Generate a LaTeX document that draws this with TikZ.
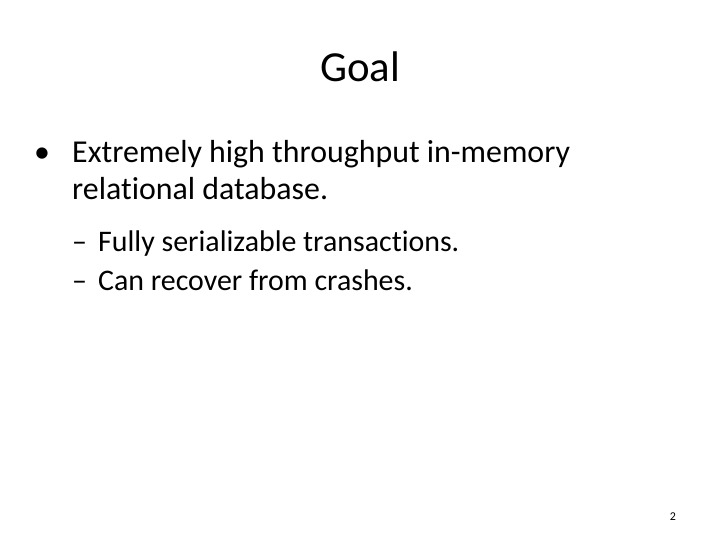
\documentclass[tikz,border=0pt]{standalone}
\usepackage{fontspec}
\setmainfont[Ligatures={NoCommon}]{Carlito}
\usetikzlibrary{positioning}
\tikzset{
	title/.style={font=\fontsize{43}{50}\selectfont,anchor=base},
	item/.style={font=\fontsize{32}{38}\selectfont,anchor=base west,inner sep=0pt},
	subitem/.style={font=\fontsize{30}{36}\selectfont,anchor=base west,inner sep=0pt}
}
\begin{document}
\begin{tikzpicture}[x=1bp,y=-1bp]
	\useasboundingbox[fill=white] (0,0) rectangle (720,540);
	\node[title] (goal) at (360,82) {Goal};
	%bullet
	\node[item] (dot) at (34,163) {•};
	\node[item] (first) at (72,163) {Extremely high throughput in-memory};
	\node[item] (second) at (72,200) {relational database.};
	%sub items
	\node[subitem] (dashA) at (72,252) {–};
	\node[subitem] (serial) at (98,252) {Fully serializable transactions.};
	\node[subitem] (dashB) at (72,290) {–};
	\node[subitem] (recover) at (98,290) {Can recover from crashes.};
	\node[font=\fontsize{12}{14}\selectfont,anchor=base,inner sep=0pt] (page) at (673,520) {2};
\end{tikzpicture}
\end{document}
